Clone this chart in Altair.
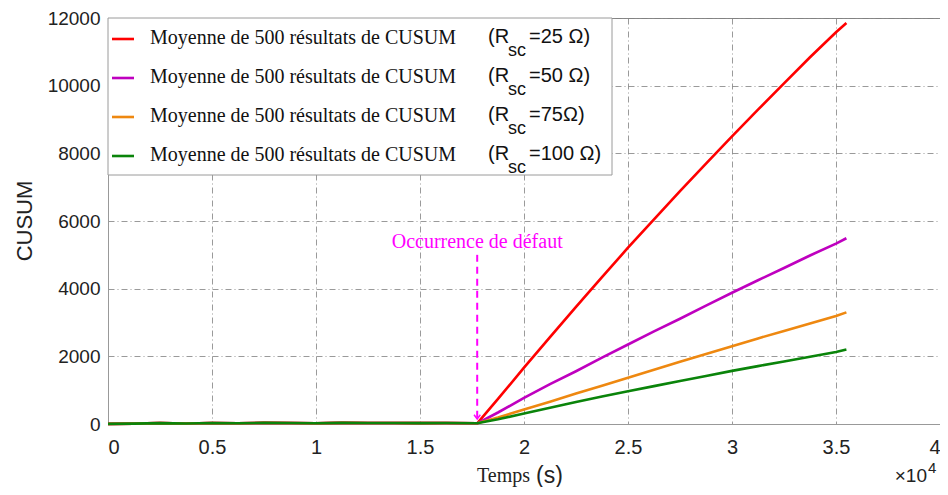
import altair as alt
import pandas as pd

# ---- data (time in units of 10^4 s) ----
t_pre = [0.0, 0.125, 0.25, 0.375, 0.5, 0.625, 0.75, 0.875, 1.0, 1.125, 1.25, 1.375, 1.5, 1.625, 1.775]
pre_vals = [5, 12, 25, 15, 30, 22, 35, 28, 22, 32, 28, 30, 25, 30, 20]

t_post = [1.775, 1.875, 2.0, 2.125, 2.25, 2.375, 2.5, 2.625, 2.75, 2.875, 3.0, 3.125, 3.25, 3.375, 3.5, 3.55]
red_post = [20, 740, 1665, 2565, 3460, 4340, 5210, 6050, 6880, 7695, 8500, 9290, 10070, 10840, 11580, 11850]
purple_post = [20, 340, 770, 1180, 1560, 1960, 2350, 2740, 3110, 3500, 3880, 4250, 4610, 4980, 5330, 5490]
orange_post = [20, 190, 430, 660, 900, 1130, 1370, 1600, 1840, 2070, 2300, 2530, 2750, 2970, 3190, 3300]
green_post = [20, 140, 310, 480, 650, 810, 970, 1120, 1270, 1420, 1570, 1710, 1850, 1990, 2130, 2200]

series_names = ["Rsc=25", "Rsc=50", "Rsc=75", "Rsc=100"]
series_post = [red_post, purple_post, orange_post, green_post]
series_colors = ["#ff0000", "#bf00bf", "#ee8810", "#0a840a"]
legend_main = "Moyenne de 500 résultats de CUSUM"
legend_tail = ["=25 Ω)", "=50 Ω)", "=75Ω)", "=100 Ω)"]

fault_t = 1.775
fault_arrow = [5000, 150]
fault_label = "Occurrence de défaut"

x_ticks = [0, 0.5, 1, 1.5, 2, 2.5, 3, 3.5, 4]
y_ticks = [0, 2000, 4000, 6000, 8000, 10000, 12000]

W, H = 832, 406

xs = alt.Scale(domain=[0, 4], nice=False)
ys = alt.Scale(domain=[0, 12000], nice=False)

layers = []
for i, (name, post, col) in enumerate(zip(series_names, series_post, series_colors)):
    df = pd.DataFrame({"t": t_pre[:-1] + t_post, "v": pre_vals[:-1] + post})
    enc = dict(
        x=alt.X("t:Q", scale=xs, axis=alt.Axis(values=x_ticks, format="~g", title=None)) if i == 0 else alt.X("t:Q", scale=xs),
        y=alt.Y("v:Q", scale=ys, axis=alt.Axis(values=y_ticks, format="d", title=None)) if i == 0 else alt.Y("v:Q", scale=ys),
    )
    layers.append(alt.Chart(df).mark_line(color=col, strokeWidth=2.6).encode(**enc))

# fault arrow
arrow_df = pd.DataFrame({"t": [fault_t, fault_t], "v": fault_arrow})
layers.append(alt.Chart(arrow_df).mark_line(color="#ff00ff", strokeWidth=2, strokeDash=[7, 5]).encode(
    x=alt.X("t:Q", scale=xs), y=alt.Y("v:Q", scale=ys)))
head_df = pd.DataFrame({"t": [fault_t], "v": [fault_arrow[1]]})
layers.append(alt.Chart(head_df).mark_point(shape="M-1,-1.3L0,0L1,-1.3", size=40, filled=False,
                                              color="#ff00ff", strokeWidth=1.5, opacity=1).encode(
    x=alt.X("t:Q", scale=xs), y=alt.Y("v:Q", scale=ys)))
lab_df = pd.DataFrame({"t": [fault_t], "v": [5000], "s": [fault_label]})
layers.append(alt.Chart(lab_df).mark_text(font="Liberation Serif", fontSize=20, color="#ff00ff",
                                           baseline="alphabetic", dy=-7).encode(
    x=alt.X("t:Q", scale=xs), y=alt.Y("v:Q", scale=ys), text="s:N"))

one = pd.DataFrame({"a": [0]})

# legend box
layers.append(alt.Chart(one).mark_rect(fill="white", stroke="#9a9a9a", strokeWidth=1).encode(
    x=alt.value(0), x2=alt.value(504), y=alt.value(0), y2=alt.value(157)))
for i in range(4):
    base_y = 26 + i * 39
    sw_y = 21 + i * 39
    layers.append(alt.Chart(one).mark_rule(color=series_colors[i], strokeWidth=2.6).encode(
        x=alt.value(4), x2=alt.value(26), y=alt.value(sw_y)))
    layers.append(alt.Chart(pd.DataFrame({"s": [legend_main]})).mark_text(
        font="Liberation Serif", fontSize=20, align="left", baseline="alphabetic", color="#111").encode(
        x=alt.value(42), y=alt.value(base_y), text="s:N"))
    layers.append(alt.Chart(pd.DataFrame({"s": ["(R"]})).mark_text(
        font="Liberation Sans", fontSize=20, align="left", baseline="alphabetic", color="#111").encode(
        x=alt.value(380), y=alt.value(base_y - 1), text="s:N"))
    layers.append(alt.Chart(pd.DataFrame({"s": ["sc"]})).mark_text(
        font="Liberation Sans", fontSize=18, align="left", baseline="alphabetic", color="#111").encode(
        x=alt.value(400), y=alt.value(base_y + 12), text="s:N"))
    layers.append(alt.Chart(pd.DataFrame({"s": [legend_tail[i]]})).mark_text(
        font="Liberation Sans", fontSize=20, align="left", baseline="alphabetic", color="#111").encode(
        x=alt.value(421), y=alt.value(base_y - 1), text="s:N"))

# axis titles
layers.append(alt.Chart(pd.DataFrame({"s": ["CUSUM"]})).mark_text(
    font="Liberation Sans", fontSize=22, angle=270, baseline="middle", color="#222").encode(
    x=alt.value(-83), y=alt.value(203), text="s:N"))
layers.append(alt.Chart(pd.DataFrame({"s": ["Temps"]})).mark_text(
    font="Liberation Serif", fontSize=20, align="right", baseline="alphabetic", color="#222").encode(
    x=alt.value(422), y=alt.value(464), text="s:N"))
layers.append(alt.Chart(pd.DataFrame({"s": ["(s)"]})).mark_text(
    font="Liberation Sans", fontSize=23, align="left", baseline="alphabetic", color="#222").encode(
    x=alt.value(428), y=alt.value(465), text="s:N"))
layers.append(alt.Chart(pd.DataFrame({"s": ["×10"]})).mark_text(
    font="Liberation Sans", fontSize=19, align="right", baseline="alphabetic", color="#222").encode(
    x=alt.value(819), y=alt.value(464), text="s:N"))
layers.append(alt.Chart(pd.DataFrame({"s": ["4"]})).mark_text(
    font="Liberation Sans", fontSize=15, align="left", baseline="alphabetic", color="#222").encode(
    x=alt.value(820), y=alt.value(455), text="s:N"))

chart = alt.layer(*layers).properties(
    width=W, height=H,
    autosize=alt.AutoSizeParams(type="none"),
    padding={"left": 100, "top": 10, "right": 0, "bottom": 63},
).configure_view(stroke="#888", strokeWidth=1).configure_axis(
    grid=True, gridColor="#808080", gridDash=[6, 3, 1, 3], gridWidth=0.8,
    domainColor="#999", ticks=False, labelFont="Liberation Sans", labelFontSize=20,
    labelColor="#222",
).configure_axisX(labelPadding=13).configure_axisY(labelPadding=8, labelFontSize=19)

chart.save("out.html", embed_options={"renderer": "svg", "actions": False})
